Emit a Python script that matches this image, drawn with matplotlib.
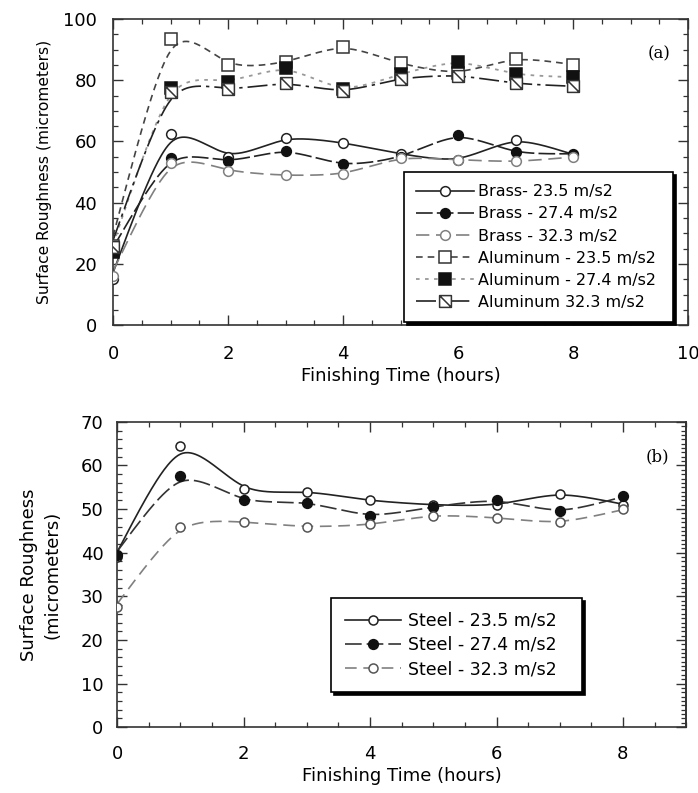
import numpy as np
import matplotlib
matplotlib.use("Agg")
import matplotlib.pyplot as plt
from matplotlib.path import Path
from matplotlib.ticker import MultipleLocator

plt.rcParams['font.family'] = ['DejaVu Sans']

# finishing time (hours)
hours = [0, 1, 2, 3, 4, 5, 6, 7, 8]

# panel (a): brass and aluminum
brass_235 = [15, 62.5, 55, 61, 59.5, 56, 54, 60.5, 55.5]
brass_274 = [24, 54.5, 53.5, 57, 52.5, 55, 62, 56.5, 56]
brass_323 = [16, 53, 50.5, 49, 49.5, 54.5, 54, 53.5, 55]
alum_235 = [26, 93.5, 85, 86, 91, 85.5, 82.5, 87, 85]
alum_274 = [24, 77.5, 79.5, 84, 77, 82, 86, 82, 81]
alum_323 = [25.5, 76, 77, 79, 76.5, 80.5, 81.5, 79, 78]

# panel (b): steel
steel_235 = [39, 64.5, 54.5, 54, 52, 51, 51, 53.5, 51]
steel_274 = [39.5, 57.5, 52, 51.5, 48.5, 50.5, 52, 49.5, 53]
steel_323 = [27.5, 46, 47, 46, 46.5, 48.5, 48, 47, 50]

labels_a = ["Brass- 23.5 m/s2", "Brass - 27.4 m/s2", "Brass - 32.3 m/s2",
            "Aluminum - 23.5 m/s2", "Aluminum - 27.4 m/s2", "Aluminum 32.3 m/s2"]
labels_b = ["Steel - 23.5 m/s2", "Steel - 27.4 m/s2", "Steel - 32.3 m/s2"]


def smooth_curve(x, y, lam2=500.0, lam1=2.0, step=0.02):
    """Penalised least-squares smoothing on a fine grid (spline with some tension)."""
    x = np.asarray(x, float)
    y = np.asarray(y, float)
    t = np.arange(x[0], x[-1] + step / 2, step)
    n = len(t)
    idx = np.rint((x - x[0]) / step).astype(int)
    w = np.zeros(n)
    w[idx] = 1.0
    rhs = np.zeros(n)
    rhs[idx] = y
    D2 = np.diff(np.eye(n), 2, axis=0)
    D1 = np.diff(np.eye(n), 1, axis=0)
    A = np.diag(w) + lam2 * D2.T @ D2 + lam1 * D1.T @ D1
    return t, np.linalg.solve(A, rhs)


# square with a diagonal stroke
slash_square = Path(
    [(-1, -1), (1, -1), (1, 1), (-1, 1), (-1, -1), (-1, 1), (1, -1)],
    [Path.MOVETO, Path.LINETO, Path.LINETO, Path.LINETO, Path.CLOSEPOLY,
     Path.MOVETO, Path.LINETO])

GREY = "#808080"


def draw_series(ax, x, y, line_kw, mark_kw, label):
    t, f = smooth_curve(x, y)
    ax.plot(t, f, **line_kw)
    ax.plot(x, y, linestyle="none", zorder=5, **mark_kw)
    # combined handle for the legend
    h, = ax.plot([], [], label=label, **line_kw, **mark_kw)
    return h


def style_axes(ax, xpad, ypad):
    for s in ax.spines.values():
        s.set_linewidth(1.2)
        s.set_color("#333333")
    ax.tick_params(which="both", direction="in", top=True, right=True,
                   colors="#333333", labelcolor="black", labelsize=13)
    ax.tick_params(which="major", length=7, width=1.0)
    ax.tick_params(which="minor", length=3.5, width=0.9)
    ax.tick_params(axis="x", which="major", pad=xpad)
    ax.tick_params(axis="y", which="major", pad=ypad)


fig = plt.figure(figsize=(6.98, 7.93), dpi=100)

# ---------------- panel (a) ----------------
ax1 = fig.add_axes([0.162, 0.590, 0.824, 0.386])
style_axes(ax1, 14, 11.5)
series_a = [
    (brass_235, dict(color="#222222", lw=1.2, linestyle="-"),
     dict(marker="o", ms=7, mfc="white", mec="#222222", mew=1.1)),
    (brass_274, dict(color="#222222", lw=1.2, dashes=(10, 2.5)),
     dict(marker="o", ms=7, mfc="#111111", mec="#111111", mew=1.1)),
    (brass_323, dict(color=GREY, lw=1.2, dashes=(8, 4)),
     dict(marker="o", ms=7, mfc="white", mec=GREY, mew=1.1)),
    (alum_235, dict(color="#444444", lw=1.2, dashes=(4, 3)),
     dict(marker="s", ms=8.5, mfc="white", mec="#333333", mew=1.1)),
    (alum_274, dict(color="#999999", lw=1.3, dashes=(2, 3)),
     dict(marker="s", ms=8.5, mfc="#111111", mec="#111111", mew=1.1)),
    (alum_323, dict(color="#222222", lw=1.2, dashes=(12, 3, 2, 3)),
     dict(marker=slash_square, ms=8.5, mfc="white", mec="#333333", mew=1.1)),
]
handles_a = [draw_series(ax1, hours, y, lk, mk, lab)
             for (y, lk, mk), lab in zip(series_a, labels_a)]
ax1.set_xlim(0, 10)
ax1.set_ylim(0, 100)
ax1.xaxis.set_major_locator(MultipleLocator(2))
ax1.xaxis.set_minor_locator(MultipleLocator(0.5))
ax1.yaxis.set_major_locator(MultipleLocator(20))
ax1.yaxis.set_minor_locator(MultipleLocator(5))
ax1.set_xlabel("Finishing Time (hours)", fontsize=13, labelpad=3)
ax1.set_ylabel("Surface Roughness (micrometers)", fontsize=11.2, labelpad=8)
ax1.text(0.95, 0.885, "(a)", transform=ax1.transAxes, fontsize=12,
         family="DejaVu Serif", ha="center", va="center")
leg1 = ax1.legend(handles=handles_a, loc="lower left", mode="expand",
                  bbox_to_anchor=(0.506, 0.01, 0.468, 0.49), borderaxespad=0,
                  fontsize=11.5, frameon=True, fancybox=False,
                  edgecolor="black", framealpha=1, handlelength=3.6,
                  labelspacing=0.45, borderpad=0.75, handletextpad=0.3,
                  shadow={"color": "black", "alpha": 1})
leg1.get_frame().set_linewidth(1.2)

# ---------------- panel (b) ----------------
ax2 = fig.add_axes([0.168, 0.083, 0.815, 0.385])
style_axes(ax2, 13, 10)
series_b = [
    (steel_235, dict(color="#222222", lw=1.2, linestyle="-"),
     dict(marker="o", ms=6.5, mfc="white", mec="#222222", mew=1.1)),
    (steel_274, dict(color="#333333", lw=1.2, dashes=(10, 3)),
     dict(marker="o", ms=7, mfc="#111111", mec="#111111", mew=1.1)),
    (steel_323, dict(color=GREY, lw=1.2, dashes=(7, 4)),
     dict(marker="o", ms=6.5, mfc="white", mec="#555555", mew=1.1)),
]
handles_b = [draw_series(ax2, hours, y, lk, mk, lab)
             for (y, lk, mk), lab in zip(series_b, labels_b)]
ax2.set_xlim(0, 9)
ax2.set_ylim(0, 70)
ax2.xaxis.set_major_locator(MultipleLocator(2))
ax2.xaxis.set_minor_locator(MultipleLocator(0.5))
ax2.yaxis.set_major_locator(MultipleLocator(10))
ax2.yaxis.set_minor_locator(MultipleLocator(2))
ax2.tick_params(right=False, which="both")
sec = ax2.secondary_yaxis("right")
sec.yaxis.set_major_locator(MultipleLocator(10))
sec.yaxis.set_minor_locator(MultipleLocator(1))
sec.tick_params(which="both", direction="in", labelright=False,
                colors="#333333")
sec.tick_params(which="major", length=7, width=1.0)
sec.tick_params(which="minor", length=3.5, width=0.9)
sec.spines["right"].set_linewidth(1.2)
sec.spines["right"].set_color("#333333")
ax2.set_xlabel("Finishing Time (hours)", fontsize=13, labelpad=3)
ax2.set_ylabel("Surface Roughness\n(micrometers)", fontsize=13,
               labelpad=14, linespacing=1.35)
ax2.text(0.95, 0.885, "(b)", transform=ax2.transAxes, fontsize=12,
         family="DejaVu Serif", ha="center", va="center")
leg2 = ax2.legend(handles=handles_b, loc="lower left", mode="expand",
                  bbox_to_anchor=(0.376, 0.115, 0.441, 0.3), borderaxespad=0,
                  fontsize=12.5, frameon=True, fancybox=False,
                  edgecolor="black", framealpha=1, handlelength=3.2,
                  labelspacing=0.36, borderpad=0.8, handletextpad=0.4,
                  shadow={"color": "black", "alpha": 1})
leg2.get_frame().set_linewidth(1.2)

fig.savefig("out.png", dpi=100)
